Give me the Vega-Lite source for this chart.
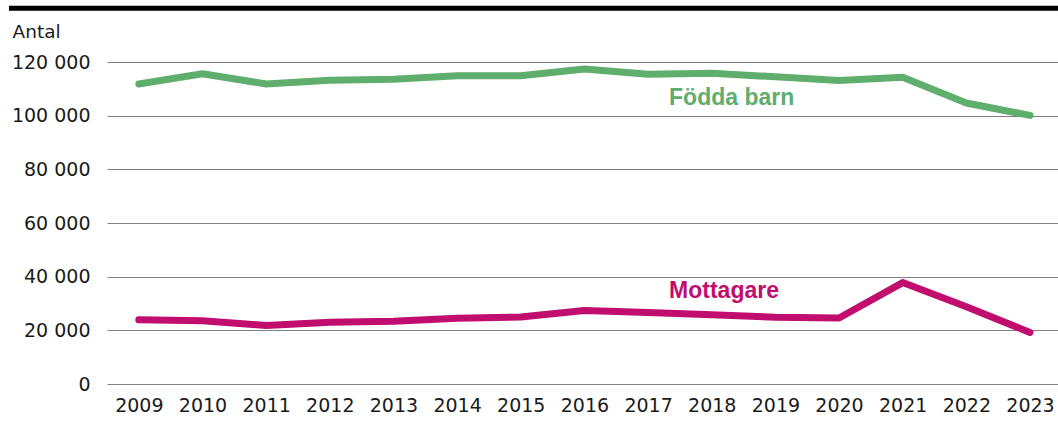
{
  "$schema": "https://vega.github.io/schema/vega-lite/v6.json",
  "width": 951,
  "height": 322,
  "autosize": {"type": "none"},
  "padding": {"left": 107, "top": 62, "right": 0, "bottom": 37},
  "background": "white",
  "config": {"view": {"stroke": null}, "font": "DejaVu Sans"},
  "datasets": {
    "series": [
      {"year": 2009, "series": "Födda barn", "value": 111800},
      {"year": 2010, "series": "Födda barn", "value": 115600},
      {"year": 2011, "series": "Födda barn", "value": 111800},
      {"year": 2012, "series": "Födda barn", "value": 113200},
      {"year": 2013, "series": "Födda barn", "value": 113600},
      {"year": 2014, "series": "Födda barn", "value": 114900},
      {"year": 2015, "series": "Födda barn", "value": 114900},
      {"year": 2016, "series": "Födda barn", "value": 117400},
      {"year": 2017, "series": "Födda barn", "value": 115400},
      {"year": 2018, "series": "Födda barn", "value": 115800},
      {"year": 2019, "series": "Födda barn", "value": 114500},
      {"year": 2020, "series": "Födda barn", "value": 113100},
      {"year": 2021, "series": "Födda barn", "value": 114300},
      {"year": 2022, "series": "Födda barn", "value": 104700},
      {"year": 2023, "series": "Födda barn", "value": 100100},
      {"year": 2009, "series": "Mottagare", "value": 23900},
      {"year": 2010, "series": "Mottagare", "value": 23600},
      {"year": 2011, "series": "Mottagare", "value": 21800},
      {"year": 2012, "series": "Mottagare", "value": 23000},
      {"year": 2013, "series": "Mottagare", "value": 23400},
      {"year": 2014, "series": "Mottagare", "value": 24500},
      {"year": 2015, "series": "Mottagare", "value": 25000},
      {"year": 2016, "series": "Mottagare", "value": 27400},
      {"year": 2017, "series": "Mottagare", "value": 26600},
      {"year": 2018, "series": "Mottagare", "value": 25800},
      {"year": 2019, "series": "Mottagare", "value": 24900},
      {"year": 2020, "series": "Mottagare", "value": 24600},
      {"year": 2021, "series": "Mottagare", "value": 37800},
      {"year": 2022, "series": "Mottagare", "value": 28800},
      {"year": 2023, "series": "Mottagare", "value": 19200}
    ],
    "labels": [
      {"year": 2017.33, "series": "Födda barn", "value": 106400},
      {"year": 2017.33, "series": "Mottagare", "value": 34650}
    ],
    "bar": [
      {"x": 2006.96, "x2": 2023.44, "y": 140000}
    ]
  },
  "layer": [
    {
      "data": {"name": "series"},
      "mark": {"type": "line", "strokeWidth": 7, "strokeCap": "round", "strokeJoin": "round"},
      "encoding": {
        "x": {
          "field": "year",
          "type": "quantitative",
          "scale": {"domain": [2008.5, 2023.44], "nice": false, "zero": false},
          "axis": {
            "values": [2009, 2010, 2011, 2012, 2013, 2014, 2015, 2016, 2017, 2018, 2019, 2020, 2021, 2022, 2023],
            "format": "d",
            "title": null,
            "grid": false,
            "domain": false,
            "ticks": false,
            "labelFontSize": 19,
            "labelColor": "#1a1a1a",
            "labelPadding": 12,
            "labelFlush": false,
            "labelOverlap": false
          }
        },
        "y": {
          "field": "value",
          "type": "quantitative",
          "scale": {"domain": [0, 120000], "nice": false},
          "axis": {
            "values": [0, 20000, 40000, 60000, 80000, 100000, 120000],
            "labelExpr": "replace(format(datum.value, ',d'), ',', ' ')",
            "title": "Antal",
            "titleAngle": 0,
            "titleAlign": "left",
            "titleBaseline": "alphabetic",
            "titleX": -95,
            "titleY": -25,
            "titleFontSize": 18.5,
            "titleFontWeight": "normal",
            "titleColor": "#1a1a1a",
            "grid": true,
            "gridColor": "#808080",
            "gridWidth": 1,
            "domain": false,
            "ticks": false,
            "labelFontSize": 19,
            "labelColor": "#1a1a1a",
            "labelPadding": 17
          }
        },
        "color": {
          "field": "series",
          "type": "nominal",
          "scale": {"domain": ["Födda barn", "Mottagare"], "range": ["#60ae6e", "#c00d6e"]},
          "legend": null
        }
      }
    },
    {
      "data": {"name": "labels"},
      "mark": {"type": "text", "align": "left", "baseline": "middle", "fontSize": 23, "fontWeight": "bold", "font": "Liberation Sans"},
      "encoding": {
        "x": {"field": "year", "type": "quantitative"},
        "y": {"field": "value", "type": "quantitative"},
        "text": {"field": "series"},
        "color": {"field": "series", "type": "nominal", "legend": null}
      }
    },
    {
      "data": {"name": "bar"},
      "mark": {"type": "rule", "strokeWidth": 5, "color": "black", "clip": false},
      "encoding": {
        "x": {"field": "x", "type": "quantitative"},
        "x2": {"field": "x2"},
        "y": {"field": "y", "type": "quantitative"}
      }
    }
  ]
}
